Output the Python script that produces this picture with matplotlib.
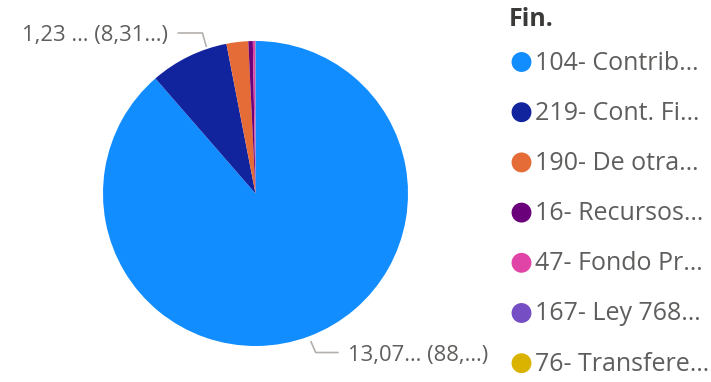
import matplotlib
matplotlib.use("Agg")
import matplotlib.pyplot as plt
import numpy as np

plt.rcParams['font.family'] = ['Open Sans', 'DejaVu Sans']

# ---- data ----
categories = ["104- Contrib…", "219- Cont. Fi…", "190- De otra…", "16- Recursos…",
              "47- Fondo Pr…", "167- Ley 768…", "76- Transfere…"]
values = [13.07, 1.23, 0.34, 0.07, 0.035, 0.004, 0.002]
colors = ["#118DFF", "#12239E", "#E66C37", "#6B007B", "#E044A7", "#744EC2", "#D9B300"]
data_labels = {0: "13,07… (88,…)", 1: "1,23 … (8,31…)"}
legend_title = "Fin."

W, H = 711, 382
fig = plt.figure(figsize=(W / 100, H / 100), dpi=100)
ax = fig.add_axes([0, 0, 1, 1])
ax.set_xlim(0, W)
ax.set_ylim(0, H)
ax.axis('off')

cx, cy, R = 255.5, H - 193.5, 152.5
wedges, _ = ax.pie(values, colors=colors, startangle=90, counterclock=False,
                   center=(cx, cy), radius=R, wedgeprops=dict(linewidth=0))
ax.set_xlim(0, W)
ax.set_ylim(0, H)
ax.set_aspect('equal')

txt_col = "#605E5C"
line_col = "#B3B0AD"
lab_fs = 15.8

# label for blue slice (mid-angle, lower right)
w = wedges[0]
ang = np.deg2rad((w.theta1 + w.theta2) / 2)
ax_, ay_ = cx + (R + 5) * np.cos(ang), cy + (R + 5) * np.sin(ang)
ex, ey = ax_ + 5, ay_ - 11.5
hx = ex + 23
ax.plot([ax_, ex, hx], [ay_, ey, ey], color=line_col, lw=1.2, solid_capstyle='butt')
ax.text(hx + 9, ey - 2.5, data_labels[0], color=txt_col, fontsize=lab_fs, ha='left', va='center')

# label for dark blue slice (upper left)
w = wedges[1]
ang = np.deg2rad(w.theta1 + 0.25 * (w.theta2 - w.theta1))
ax_, ay_ = cx + (R + 2) * np.cos(ang), cy + (R + 2) * np.sin(ang)
ex, ey = ax_ - 4, ay_ + 14
hx = ex - 25
ax.plot([ax_, ex, hx], [ay_, ey, ey], color=line_col, lw=1.2, solid_capstyle='butt')
ax.text(hx - 9, ey - 3, data_labels[1], color=txt_col, fontsize=lab_fs, ha='right', va='center')

# legend
ax.text(509, H - 19, legend_title, color="#3B3A39", fontsize=18, fontweight='bold',
        ha='left', va='center')
for i, (cat, col) in enumerate(zip(categories, colors)):
    y = H - (62 + i * 50.2)
    ax.scatter([521.5], [y], s=205, color=col, edgecolors='none', zorder=3)
    ax.text(535, y - 1, cat, color=txt_col, fontsize=18, ha='left', va='center')

fig.savefig("out.png", dpi=100)
